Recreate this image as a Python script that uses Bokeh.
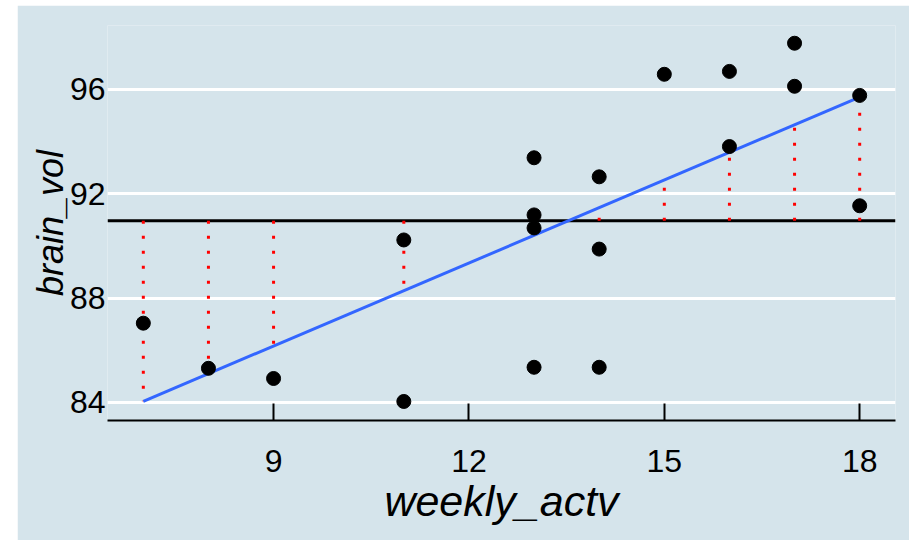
import numpy as np
from bokeh.plotting import figure
from bokeh.layouts import column, row
from bokeh.models import FixedTicker, Range1d, Spacer
from bokeh.embed import file_html
from bokeh.resources import INLINE

# data
weekly_actv = [7, 8, 9, 11, 11, 13, 13, 13, 13, 14, 14, 14, 15, 16, 16, 17, 17, 18, 18]
brain_vol = [87.04, 85.31, 84.92, 90.23, 84.04, 93.38, 91.19, 90.69, 85.35,
             92.65, 89.88, 85.35, 96.58, 96.69, 93.81, 97.77, 96.12, 95.77, 91.54]
x_ticks = [9, 12, 15, 18]
y_ticks = [84, 88, 92, 96]

x = np.array(weekly_actv, dtype=float)
y = np.array(brain_vol, dtype=float)
mean_y = float(y.mean())
slope, intercept = np.polyfit(x, y, 1)
ux = np.unique(x)
pred = intercept + slope * ux

BG = "#d5e4eb"
FONT = "Liberation Sans"

p = figure(width=892, height=535, output_backend="svg", toolbar_location=None,
           x_range=Range1d(6.45, 18.55), y_range=Range1d(83.31, 98.45),
           min_border_left=90, min_border_right=14, min_border_top=20, min_border_bottom=120)
p.background_fill_color = BG
p.border_fill_color = BG
p.outline_line_color = None

# grid
p.xgrid.grid_line_color = None
p.ygrid.grid_line_color = "white"
p.ygrid.grid_line_width = 3
p.ygrid.ticker = FixedTicker(ticks=y_ticks)

# x axis
xa = p.xaxis[0]
xa.ticker = FixedTicker(ticks=x_ticks)
xa.axis_line_color = "black"
xa.axis_line_width = 2
xa.major_tick_in = 17
xa.major_tick_out = 0
xa.major_tick_line_width = 2
xa.major_tick_line_color = "black"
xa.minor_tick_line_color = None
xa.major_label_standoff = 29
xa.major_label_text_font = FONT
xa.major_label_text_font_size = "32px"
xa.major_label_text_color = "black"
xa.axis_label = "weekly_actv"
xa.axis_label_text_font = FONT
xa.axis_label_text_font_size = "43px"
xa.axis_label_text_font_style = "italic"
xa.axis_label_text_color = "black"
xa.axis_label_standoff = 2

# y axis
ya = p.yaxis[0]
ya.ticker = FixedTicker(ticks=y_ticks)
ya.axis_line_color = None
ya.major_tick_line_color = None
ya.minor_tick_line_color = None
ya.major_tick_in = 0
ya.major_tick_out = 0
ya.major_label_standoff = 2
ya.major_label_text_font = FONT
ya.major_label_text_font_size = "32px"
ya.major_label_text_color = "black"
ya.axis_label = "brain_vol"
ya.axis_label_text_font = FONT
ya.axis_label_text_font_size = "36px"
ya.axis_label_text_font_style = "italic"
ya.axis_label_text_color = "black"
ya.axis_label_standoff = -4

# mean line
p.line(x=[6.45, 18.55], y=[mean_y, mean_y], line_color="black", line_width=3)

# dotted segments from mean to fitted line
p.segment(x0=ux, y0=[mean_y] * len(ux), x1=ux, y1=pred,
          line_color="red", line_width=3, line_dash="3 12")

# regression line
p.line(x=[ux.min(), ux.max()], y=[intercept + slope * ux.min(), intercept + slope * ux.max()],
       line_color="#3366FF", line_width=3)

# points
p.scatter(x=weekly_actv, y=brain_vol, size=14, fill_color="black", line_color="black")

layout = column(Spacer(height=5), row(Spacer(width=17), p))
open("out.html", "w").write(file_html(layout, INLINE))
